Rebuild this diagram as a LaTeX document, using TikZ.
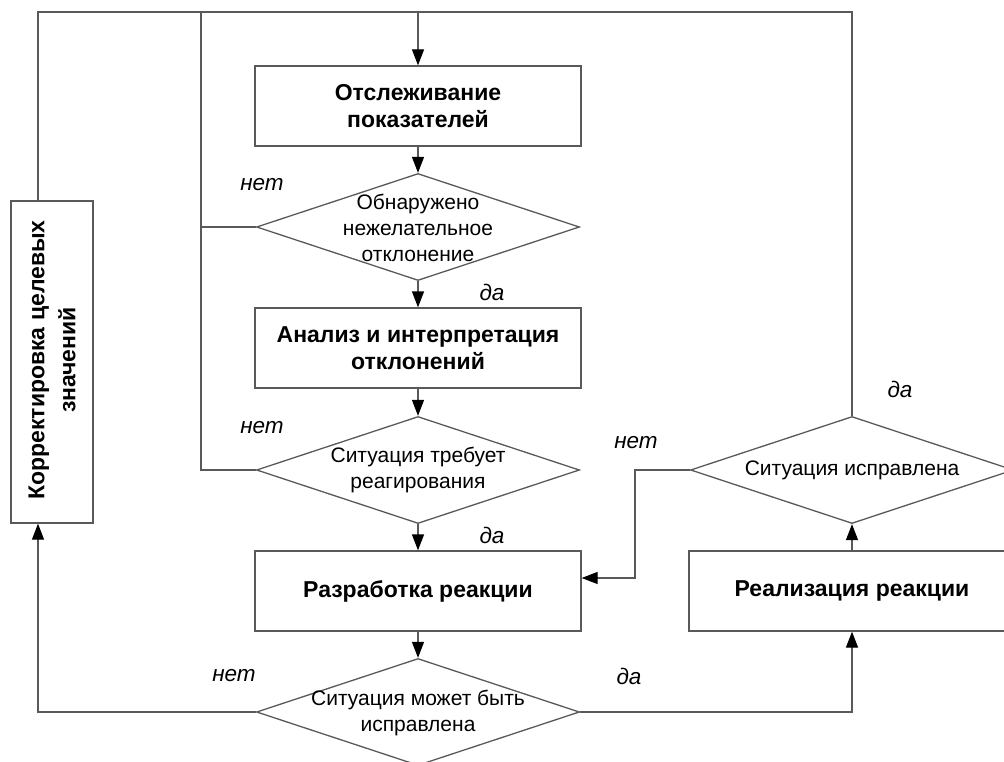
\documentclass[tikz,border=0pt]{standalone}
\usepackage{fontspec}
\setmainfont{Liberation Sans}
\usetikzlibrary{arrows.meta,shapes.geometric}
\definecolor{ln}{gray}{0.35}
\tikzset{
  ln/.style={draw=ln, line width=1.3pt},
  arr/.style={ln, -{Triangle[length=16pt,width=12pt,color=black]}},
  proc/.style={ln, rectangle, minimum width=326pt, minimum height=80pt, inner sep=0pt,
    align=center, font=\fontsize{23}{27.5}\selectfont\bfseries},
  dia/.style={ln, diamond, minimum width=323pt, minimum height=107pt, inner sep=0pt},
  dtext/.style={align=center, font=\fontsize{21}{26}\selectfont, inner sep=0pt},
  lbl/.style={font=\fontsize{22.5}{26}\selectfont\itshape, inner sep=0pt}
}
\begin{document}
\begin{tikzpicture}[x=1pt,y=-1pt]
\useasboundingbox (0,0) rectangle (1004,762);
\begin{scope}
\clip (0,0) rectangle (1004,762);
% boxes
\node[proc] (b1) at (418,106) {Отслеживание\\показателей};
\node[dia] (d1) at (418,227) {};
\node[dtext] (t1) at (418,228) {Обнаружено\\нежелательное\\отклонение};
\node[proc] (b2) at (418,348) {Анализ и интерпретация\\отклонений};
\node[dia] (d2) at (418,470) {};
\node[dtext] (t2) at (418,470) {Ситуация требует\\реагирования};
\node[proc] (b3) at (418,591) {Разработка реакции};
\node[dia] (d3) at (418,712) {};
\node[dtext] (t3) at (418,713) {Ситуация может быть\\исправлена};
\node[proc] (b4) at (852,591) {Реализация реакции};
\node[dia] (d4) at (852,470) {};
\node[dtext] (t4) at (852,470) {Ситуация исправлена};
\node[ln, rectangle, minimum width=82pt, minimum height=322pt, inner sep=0pt] (bl) at (52,362) {};
\node[rotate=90, align=center, inner sep=0pt, font=\fontsize{23}{31}\selectfont\bfseries] (tl0) at (52,360) {Корректировка целевых\\значений};
% coordinates
\coordinate (tr) at (852,12);
\coordinate (tl) at (38,12);
\coordinate (m) at (201,12);
\coordinate (k1) at (635,470);
\coordinate (k2) at (635,578);
% connectors
\draw[ln] (d4.north) -- (tr) -- (tl) -- (tl |- bl.north);
\draw[arr] (b1.north |- tl) -- (b1.north);
\draw[ln] (m) -- (m |- d2.west) -- (d2.west);
\draw[ln] (m |- d1.west) -- (d1.west);
\draw[arr] (b1.south) -- (d1.north);
\draw[arr] (d1.south) -- (b2.north);
\draw[arr] (b2.south) -- (d2.north);
\draw[arr] (d2.south) -- (b3.north);
\draw[arr] (b3.south) -- (d3.north);
\draw[arr] (d3.west) -- (tl |- d3.west) -- (tl |- bl.south);
\draw[arr] (d3.east) -- (b4.south |- d3.east) -- (b4.south);
\draw[arr] (b4.north) -- (d4.south);
\draw[arr] (d4.west) -- (k1) -- (k2) -- (b3.east |- k2);
% labels
\node[lbl] (n1) at (262,185) {нет};
\node[lbl] (y1) at (492,292) {да};
\node[lbl] (n2) at (262,428) {нет};
\node[lbl] (y2) at (492,535) {да};
\node[lbl] (n4) at (636,443) {нет};
\node[lbl] (y4) at (900,389) {да};
\node[lbl] (n3) at (234,676) {нет};
\node[lbl] (y3) at (629,676) {да};
\end{scope}
\end{tikzpicture}
\end{document}
